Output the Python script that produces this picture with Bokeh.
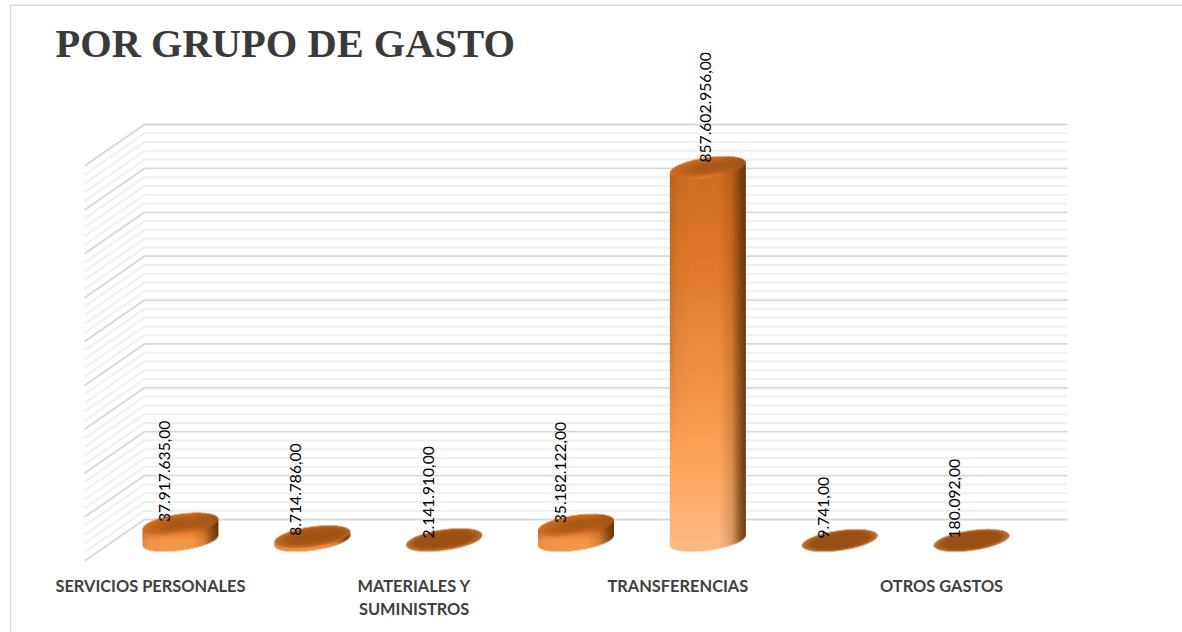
import numpy as np
from bokeh.plotting import figure
from bokeh.models import ColumnDataSource, Range1d, LinearAxis, FixedTicker, Label, LinearScale
from bokeh.core.properties import value
from bokeh.embed import file_html
from bokeh.resources import INLINE

TITLE = "POR GRUPO DE GASTO"
VALUES = [37917635, 8714786, 2141910, 35182122, 857602956, 9741, 180092]
VALUE_LABELS = ["37.917.635,00", "8.714.786,00", "2.141.910,00", "35.182.122,00",
                "857.602.956,00", "9.741,00", "180.092,00"]
TICK_INDEX = [0, 2, 4, 6]
TICK_LABELS = ["SERVICIOS PERSONALES", "MATERIALES Y\nSUMINISTROS", "TRANSFERENCIAS", "OTROS GASTOS"]
AXIS_MAX = 900e6
MAJOR_STEP = 100e6
MINOR_STEP = 20e6

W, H = 1182, 632
WALL_L, WALL_R, WALL_TOP, WALL_ZERO = 144, 1067, 124, 519
DEPTH_X, DEPTH_Y = 60, 41.5
STEP = (WALL_R - WALL_L) / len(VALUES)
K_WALL = (WALL_ZERO - WALL_TOP) / AXIS_MAX      # px per unit, back wall
BASE_Y = 540
K_BAR = 373 / 857602956                          # px per unit, columns

FRONT_L = WALL_L - DEPTH_X
xr = Range1d(-FRONT_L / STEP, (W - FRONT_L) / STEP)
yr = Range1d((WALL_ZERO - H) / K_WALL, WALL_ZERO / K_WALL)
bar_r = Range1d((BASE_Y - H) / K_BAR, BASE_Y / K_BAR)

def X(px):
    return (px - FRONT_L) / STEP
def Y(py):
    return (WALL_ZERO - py) / K_WALL

p = figure(width=W, height=H, x_range=xr, y_range=yr, output_backend="svg", toolbar_location=None,
           min_border=0, min_border_left=0, min_border_right=0, min_border_top=0, min_border_bottom=0,
           x_axis_type=None, y_axis_type=None,
           outline_line_color=None, background_fill_color="white", border_fill_color="white")
p.grid.visible = False
p.extra_y_ranges = {"bars": bar_r}
p.extra_y_scales = {"bars": LinearScale()}

# chart border
p.line([X(10), X(10)], [Y(4.7), Y(H)], line_color="#d9d9d9", line_width=1.5)
p.line([X(10), X(W)], [Y(4.7), Y(4.7)], line_color="#d9d9d9", line_width=1.5)

# gridlines in 3D wall
dv = DEPTH_Y / K_WALL
du = DEPTH_X / STEP
wl, wr = X(WALL_L), X(WALL_R)
def grid(vals):
    return [[wl - du, wl, wr] for _ in vals], [[v - dv, v, v] for v in vals]
minor = [v for v in np.arange(0, AXIS_MAX + 1, MINOR_STEP) if v % MAJOR_STEP != 0]
major = list(np.arange(0, AXIS_MAX + 1, MAJOR_STEP))
xs, ys = grid(minor)
p.multi_line(xs, ys, line_color="#f0f0f0", line_width=2)
xs, ys = grid(major)
p.multi_line(xs, ys, line_color="#d9d9d9", line_width=1.8)

# cylinders
A, B, SHEAR = 38.0, 10.3, 5 / 38
SS = 3
def interp(t, stops, cols):
    return np.stack([np.interp(t, stops, [c[i] for c in cols]) for i in range(3)], -1)

def cylinder(h):
    pad = 14
    wpx = int(2 * A) + 4
    hpx = int(np.ceil(h)) + 2 * pad
    xx = (np.arange(wpx * SS) + .5) / SS - wpx / 2
    yy = (np.arange(hpx * SS) + .5) / SS - (hpx - pad)     # down positive, base centre = 0
    Xg, Yg = np.meshgrid(xx, yy)
    xn = Xg / A
    inside = np.abs(xn) <= 1
    half = B * np.sqrt(np.clip(1 - xn ** 2, 0, 1))
    yc = -SHEAR * Xg
    body = inside & (Yg <= yc + half) & (Yg >= yc - h)
    top = inside & (np.abs(Yg + h - yc) <= half)
    t = np.clip((Yg + h) / max(h, 1), 0, 1)
    te = t * (.55 + .45 * min(1.0, h / 100))
    vert = interp(te, [0, .22, .55, .8, 1],
                  [(206, 108, 30), (222, 118, 38), (240, 145, 66), (252, 166, 92), (254, 184, 128)])
    f = np.interp(xn, [-1, -.85, -.45, .3, .62, .85, 1], [.8, .93, 1, 1, .8, .3, .05])
    lift = np.clip((te - .5) / .3, 0, 1) * np.clip((-.1 - xn) / .3, 0, 1)
    f = f + lift * (1 - f)
    dark = np.array([100, 50, 8.0])
    rgb = dark + (vert - dark) * f[..., None]
    # top face
    dy = (Yg + h - yc) / B
    r = np.sqrt(np.clip(xn ** 2 + dy ** 2, 0, 2))
    bevel = min(1.0, h / 8)
    flat = interp(r, [0, .75, 1], [(152, 78, 20), (155, 80, 22), (196, 116, 52)])
    rim = interp(r, [0, .45, .8, 1], [(165, 86, 22), (176, 92, 24), (198, 104, 30), (208, 110, 32)])
    front = np.clip(dy, 0, 1) * np.clip(1.2 - np.abs(xn + .1) * 1.8, 0, 1) * np.clip((r - .6) / .4, 0, 1)
    rim = rim + .7 * front[..., None] * (np.array([240, 145, 66]) - rim)
    side = np.clip((xn - .3) / .7, 0, 1)[..., None]
    rim = rim + .45 * side * (dark - rim)
    rgbtop = flat + bevel * (rim - flat)
    rgb = np.where(top[..., None], rgbtop, rgb)
    alpha = (body | top).astype(float)
    rgb = np.where(alpha[..., None] > 0, rgb, 255)
    def down(a):
        return a.reshape(hpx, SS, wpx, SS, *a.shape[2:]).mean(axis=(1, 3))
    rgb2, a2 = down(rgb), down(alpha)
    img = np.zeros((hpx, wpx), dtype=np.uint32)
    view = img.view(np.uint8).reshape(hpx, wpx, 4)
    view[..., :3] = np.clip(rgb2, 0, 255).astype(np.uint8)
    view[..., 3] = (a2 * 255).astype(np.uint8)
    return img[::-1], wpx, hpx, pad

for i, v in enumerate(VALUES):
    hp = v * K_BAR
    img, wpx, hpx, pad = cylinder(hp)
    cx = i + .5 + (DEPTH_X / 2) / STEP
    p.image_rgba(image=[img], x=[cx - (wpx / 2) / STEP], y=[-pad / K_BAR],
                 dw=[wpx / STEP], dh=[hpx / K_BAR], y_range_name="bars")

# data labels
LABEL_DX = [-16, -17, -16, -16, -2, -16, -17]
LABEL_DY = [2, 1, 1, 2, 5, 2, 2]
src = ColumnDataSource(dict(x=[i + .5 + (DEPTH_X / 2) / STEP for i in range(len(VALUES))],
                            y=VALUES, t=VALUE_LABELS, dx=LABEL_DX, dy=[-d for d in LABEL_DY]))
p.text(x="x", y="y", text="t", source=src, y_range_name="bars", angle=np.pi / 2, x_offset="dx", y_offset="dy",
       text_align="left", text_baseline="middle", text_color="#000000",
       text_font=value("Lato"), text_font_size="15.6px")

# category axis
ax = LinearAxis(ticker=FixedTicker(ticks=[i + .5 for i in TICK_INDEX]),
                major_label_overrides={i + .5: s for i, s in zip(TICK_INDEX, TICK_LABELS)},
                fixed_location=Y(WALL_ZERO + DEPTH_Y), axis_line_color=None,
                major_tick_line_color=None, minor_tick_line_color=None,
                major_label_standoff=9, major_label_text_font="Lato",
                major_label_text_font_style="bold", major_label_text_font_size="16.4px",
                major_label_text_color="#404040", major_label_orientation="horizontal")
p.add_layout(ax, "below")

p.add_layout(Label(x=X(55), y=Y(42.5), text=TITLE, text_font="Liberation Serif", text_font_style="bold",
                   text_font_size="40.5px", text_color="#3a3a3a", text_baseline="alphabetic", text_align="left"))

open("out.html", "w").write(file_html(p, INLINE))
